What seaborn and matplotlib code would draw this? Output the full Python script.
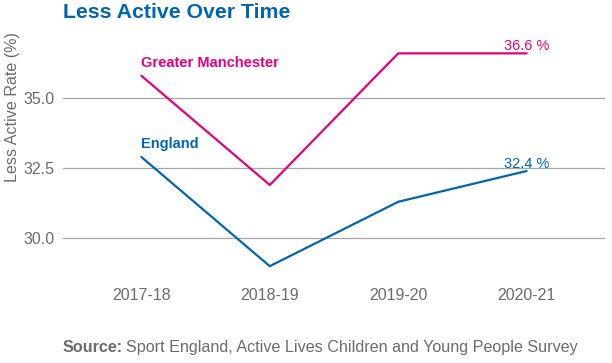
import pandas as pd
import seaborn as sns
import matplotlib.pyplot as plt

# Data
years = ["2017-18", "2018-19", "2019-20", "2020-21"]
greater_manchester = [35.8, 31.9, 36.6, 36.6]
england = [32.9, 29.0, 31.3, 32.4]

pink = "#E6007E"
blue = "#0066B3"
grey = "#6b6b6b"

df = pd.DataFrame({
    "Year": years * 2,
    "Rate": greater_manchester + england,
    "Area": ["Greater Manchester"] * 4 + ["England"] * 4,
})
df["x"] = df["Year"].map({y: i for i, y in enumerate(years)})

sns.set_style("white")
plt.rcParams["font.family"] = ["Liberation Sans", "DejaVu Sans"]

fig = plt.figure(figsize=(6.12, 3.63), dpi=100)
ax = fig.add_axes([63 / 612, 0.242, 542 / 612, 0.675])

sns.lineplot(data=df, x="x", y="Rate", hue="Area",
             palette={"Greater Manchester": pink, "England": blue},
             linewidth=1.6, legend=False, ax=ax)

ax.set_xlim(-0.61, 3.61)
ax.set_ylim(28.68, 37.43)
ax.set_xticks(range(len(years)))
ax.set_xticklabels(years)
ax.set_yticks([30.0, 32.5, 35.0])
ax.set_yticklabels(["30.0", "32.5", "35.0"])
ax.tick_params(axis="both", labelsize=11.5, labelcolor=grey, length=0)
ax.tick_params(axis="x", pad=9)
ax.tick_params(axis="y", pad=6)
ax.yaxis.grid(True, color="#a6a6a6", linewidth=0.9)
ax.set_axisbelow(True)
for s in ax.spines.values():
    s.set_visible(False)
ax.set_xlabel("")
ax.set_ylabel("")

# series labels
ax.text(0, greater_manchester[0] + 0.22, "Greater Manchester", color=pink,
        fontsize=10.5, fontweight="bold", ha="left", va="bottom")
ax.text(0, england[0] + 0.22, "England", color=blue,
        fontsize=10.5, fontweight="bold", ha="left", va="bottom")
ax.text(3, greater_manchester[3] + 0.02, f"{greater_manchester[3]} %", color=pink,
        fontsize=10.5, ha="center", va="bottom")
ax.text(3, england[3] + 0.0, f"{england[3]} %", color=blue,
        fontsize=10.5, ha="center", va="bottom")

fig.text(63 / 612, 1 - 12 / 363, "Less Active Over Time", color=blue,
         fontsize=15.3, fontweight="bold", ha="left", va="center")
fig.text(13 / 612, 1 - 107 / 363, "Less Active Rate (%)", color=grey,
         fontsize=11.6, rotation=90, ha="center", va="center")
src = fig.text(63 / 612, 1 - 352 / 363, "Source:", color=grey,
               fontsize=11.6, fontweight="bold", ha="left", va="baseline")
fig.canvas.draw()
bb = src.get_window_extent()
fig.text((bb.x1 + 3) / 612, 1 - 352 / 363,
         "Sport England, Active Lives Children and Young People Survey",
         color=grey, fontsize=11.6, ha="left", va="baseline")

fig.savefig("out.png", dpi=100)
